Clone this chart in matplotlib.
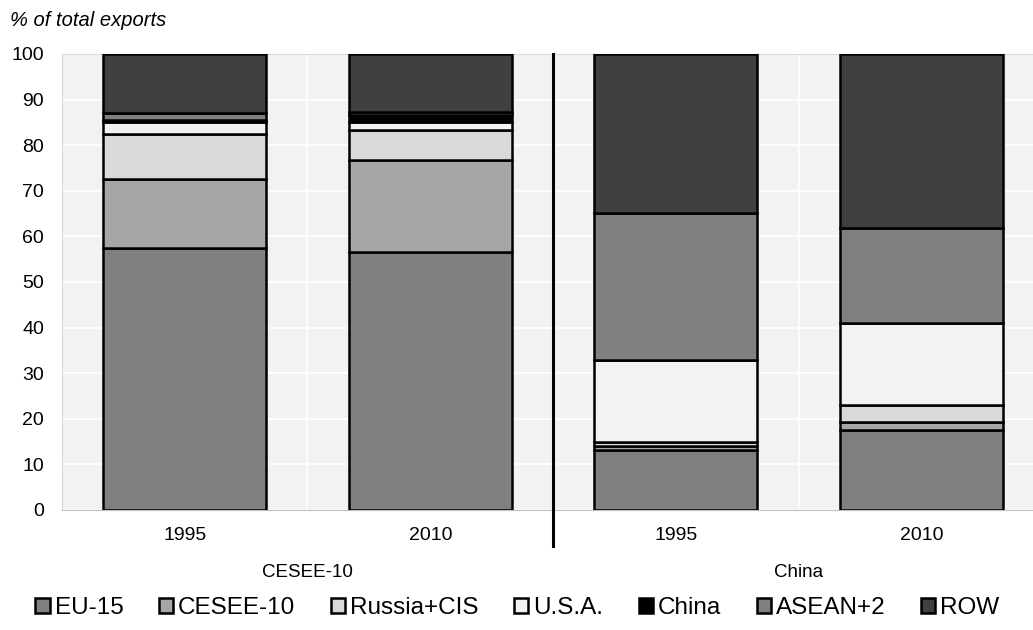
import matplotlib.pyplot as plt
import numpy as np

plt.rcParams['font.family'] = ['Liberation Sans', 'DejaVu Sans']

# bars: CESEE-10 1995, CESEE-10 2010, China 1995, China 2010
years = ["1995", "2010", "1995", "2010"]
groups = ["CESEE-10", "China"]
series = ["EU-15", "CESEE-10", "Russia+CIS", "U.S.A.", "China", "ASEAN+2", "ROW"]

eu15 = [57.5, 56.5, 13.2, 17.5]
cesee10 = [15.0, 20.3, 0.8, 1.9]
russia_cis = [10.0, 6.5, 1.0, 3.6]
usa = [2.5, 1.7, 17.9, 18.0]
china = [0.6, 1.6, 0.0, 0.0]
asean2 = [1.4, 0.7, 32.2, 20.8]
row = [13.0, 12.7, 34.9, 38.2]

values = [eu15, cesee10, russia_cis, usa, china, asean2, row]
colors = ["#808080", "#a6a6a6", "#d9d9d9", "#f2f2f2", "#000000", "#808080", "#404040"]

fig = plt.figure(figsize=(10.33, 6.3), dpi=100)
ax = fig.add_axes([0.060, 0.1905, 0.94, 0.7238])
ax.set_facecolor("#f2f2f2")

x = np.arange(len(years))
bottom = np.zeros(len(years))
for name, vals, c in zip(series, values, colors):
    ax.bar(x, vals, 0.665, bottom=bottom, color=c, edgecolor="black",
           linewidth=1.8, label=name, zorder=3)
    bottom += np.array(vals)

ax.set_ylim(0, 100)
ax.set_xlim(-0.5, 3.455)
ax.set_yticks(range(0, 101, 10))
ax.set_xticks(x)
ax.set_xticklabels(years)
ax.tick_params(length=0, labelsize=14)
ax.tick_params(axis="y", pad=13)
ax.tick_params(axis="x", pad=12)

ax.grid(axis="y", color="white", linewidth=1.2, zorder=0)
for xv in [0.5, 2.5]:
    ax.axvline(xv, color="white", linewidth=1.2, zorder=0)

ax.spines["right"].set_visible(False)
ax.spines["top"].set_color("#d9d9d9")
ax.spines["left"].set_color("#d9d9d9")
ax.spines["bottom"].set_color("#bfbfbf")

# separator between the two groups
ax.plot([1.5, 1.5], [100, -8], color="black", linewidth=2.2, clip_on=False, zorder=5)

ax.text(0.5, -13.7, groups[0], ha="center", va="center", fontsize=13.5)
ax.text(2.5, -13.7, groups[1], ha="center", va="center", fontsize=13.5)

fig.text(0.010, 0.968, "% of total exports", fontsize=14.5, style="italic", va="center")

ax.legend(loc="center", bbox_to_anchor=(0.469, -0.215), ncol=7, frameon=False,
          fontsize=17.5, handlelength=0.6, handleheight=0.6, handletextpad=0.2,
          columnspacing=1.45, borderaxespad=0)

fig.savefig("out.png", dpi=100)
